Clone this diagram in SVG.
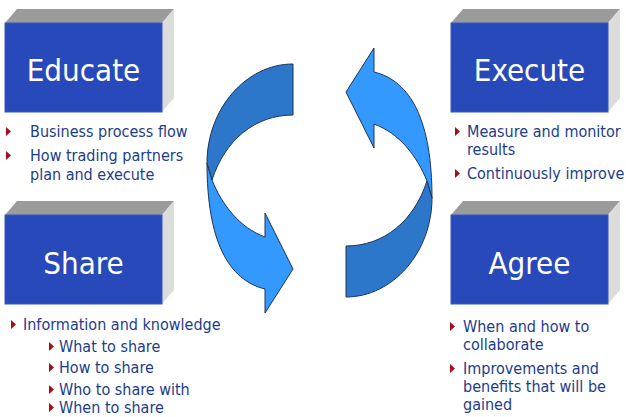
<svg xmlns="http://www.w3.org/2000/svg" xmlns:xlink="http://www.w3.org/1999/xlink" width="626" height="417" viewBox="0 0 626 417">
  <style>
    .front { fill: #2849b9; stroke: #3557c4; stroke-width: 1; }
    .top { fill: #9b9b9b; }
    .side { fill: #dcdcdc; }
    .title { font-family: "DejaVu Sans Condensed", "DejaVu Sans", sans-serif; font-stretch: condensed; font-size: 31px; fill: #ffffff; text-anchor: middle; }
    .item { font-family: "DejaVu Sans Condensed", "DejaVu Sans", sans-serif; font-stretch: condensed; font-size: 16px; fill: #1c3c8c; }
    .bullet { fill: #a80c14; }
    .dark { fill: #2c77c9; stroke: #1d3554; stroke-width: 1; stroke-linejoin: round; }
    .light { fill: #3399ff; stroke: #1d3554; stroke-width: 1; stroke-linejoin: round; }
  </style>
  <defs>
    <!-- 3D block: front face 157x89 with a receding top and right face -->
    <g id="block">
      <polygon class="top" points="0,14 12,0 169,0 157,14"/>
      <polygon class="side" points="157,14 169,0 169,89 157,103"/>
      <rect class="front" x="0" y="14" width="157" height="89"/>
    </g>
    <path id="tri" class="bullet" d="M0,0 L5,4.5 L0,9 Z"/>
    <!-- half of the cycle: a twisted ribbon ending in an arrowhead -->
    <g id="half">
      <path class="light" d="M207,163 C207,240 228,280 265,289 L265,313 L293,269 L265,213 L265,237 C240,228 222,205 212,180 Z"/>
      <path class="dark" d="M293,64 C246,64 207,109 207,163 L212,180 C225,140 255,115 293,115 Z"/>
    </g>
  </defs>

  <g id="connectors">
    <use xlink:href="#half"/>
    <use xlink:href="#half" transform="rotate(180 319.5 180.5)"/>
  </g>

  <g id="educate">
    <use xlink:href="#block" x="5" y="9"/>
    <text class="title" x="83.5" y="81">Educate</text>
    <use xlink:href="#tri" x="6" y="127"/>
    <text class="item" x="30" y="137">Business process flow</text>
    <use xlink:href="#tri" x="6" y="151"/>
    <text class="item" x="30" y="161">How trading partners</text>
    <text class="item" x="30" y="180">plan and execute</text>
  </g>

  <g id="execute">
    <use xlink:href="#block" x="451" y="9"/>
    <text class="title" x="529.5" y="81">Execute</text>
    <use xlink:href="#tri" x="455" y="127"/>
    <text class="item" x="467" y="137">Measure and monitor</text>
    <text class="item" x="467" y="155">results</text>
    <use xlink:href="#tri" x="455" y="169"/>
    <text class="item" x="467" y="179">Continuously improve</text>
  </g>

  <g id="share">
    <use xlink:href="#block" x="5" y="201"/>
    <text class="title" x="83.5" y="274">Share</text>
    <use xlink:href="#tri" x="11" y="320"/>
    <text class="item" x="23" y="330">Information and knowledge</text>
    <use xlink:href="#tri" x="49" y="342"/>
    <text class="item" x="59" y="352">What to share</text>
    <use xlink:href="#tri" x="49" y="363"/>
    <text class="item" x="59" y="373">How to share</text>
    <use xlink:href="#tri" x="49" y="385"/>
    <text class="item" x="59" y="395">Who to share with</text>
    <use xlink:href="#tri" x="49" y="403"/>
    <text class="item" x="59" y="413">When to share</text>
  </g>

  <g id="agree">
    <use xlink:href="#block" x="451" y="201"/>
    <text class="title" x="529.5" y="274">Agree</text>
    <use xlink:href="#tri" x="450" y="322"/>
    <text class="item" x="463" y="332">When and how to</text>
    <text class="item" x="463" y="350">collaborate</text>
    <use xlink:href="#tri" x="450" y="364"/>
    <text class="item" x="463" y="374">Improvements and</text>
    <text class="item" x="463" y="392">benefits that will be</text>
    <text class="item" x="463" y="410">gained</text>
  </g>
</svg>
